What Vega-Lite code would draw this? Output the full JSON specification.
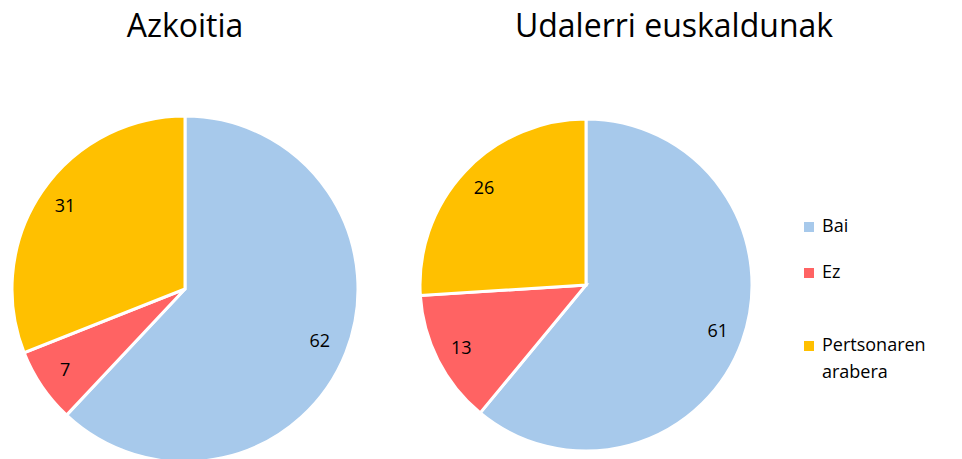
{
  "$schema": "https://vega.github.io/schema/vega-lite/v6.json",
  "padding": {"left": 0, "top": 11, "right": 0, "bottom": 0},
  "spacing": 44,
  "background": "white",
  "config": {
    "view": {"stroke": null},
    "title": {"font": "Open Sans", "fontSize": 32, "fontWeight": "normal", "color": "#000000", "anchor": "middle", "offset": 55},
    "legend": {"labelFont": "Open Sans", "labelFontSize": 18, "labelColor": "#000000"},
    "style": {"guide-label": {"lineHeight": 27}}
  },
  "datasets": {
    "azk": [
      {"cat": "Bai", "value": 62, "o": 1},
      {"cat": "Ez", "value": 7, "o": 2},
      {"cat": "Pertsonaren arabera", "value": 31, "o": 3}
    ],
    "ud": [
      {"cat": "Bai", "value": 61, "o": 1},
      {"cat": "Ez", "value": 13, "o": 2},
      {"cat": "Pertsonaren arabera", "value": 26, "o": 3}
    ]
  },
  "hconcat": [
    {
      "title": {"text": "Azkoitia"},
      "width": 370,
      "height": 380,
      "data": {"name": "azk"},
      "encoding": {
        "theta": {"field": "value", "type": "quantitative", "stack": true},
        "order": {"field": "o", "type": "quantitative"}
      },
      "layer": [
        {
          "mark": {"type": "arc", "outerRadius": 173, "stroke": "#ffffff", "strokeWidth": 3},
          "encoding": {
            "color": {
              "field": "cat", "type": "nominal",
              "scale": {"domain": ["Bai", "Ez", "Pertsonaren arabera"], "range": ["#A7C9EB", "#FF6363", "#FFC000"]},
              "legend": {
                "title": null, "orient": "none", "legendX": 800, "legendY": 119,
                "symbolType": "square", "symbolSize": 100, "symbolStrokeWidth": 0,
                "rowPadding": 28,
                "labelExpr": "datum.label == 'Pertsonaren arabera' ? ['Pertsonaren', 'arabera'] : datum.label == 'Ez' ? ['Ez', ' '] : datum.label",
                "encode": {"labels": {"update": {"lineHeight": {"value": 27}}}}
              }
            }
          }
        },
        {
          "mark": {"type": "text", "radius": 145, "fontSize": 18, "font": "Open Sans"},
          "encoding": {"text": {"field": "value", "type": "quantitative"}, "color": {"value": "#000000"}}
        }
      ]
    },
    {
      "title": {"text": "Udalerri euskaldunak", "dx": 88},
      "width": 332,
      "height": 372,
      "data": {"name": "ud"},
      "encoding": {
        "theta": {"field": "value", "type": "quantitative", "stack": true},
        "order": {"field": "o", "type": "quantitative"}
      },
      "layer": [
        {
          "mark": {"type": "arc", "outerRadius": 166, "stroke": "#ffffff", "strokeWidth": 3},
          "encoding": {
            "color": {"field": "cat", "type": "nominal"}
          }
        },
        {
          "mark": {"type": "text", "radius": 140, "fontSize": 18, "font": "Open Sans"},
          "encoding": {"text": {"field": "value", "type": "quantitative"}, "color": {"value": "#000000"}}
        }
      ]
    }
  ],
  "resolve": {"scale": {"color": "shared"}}
}
